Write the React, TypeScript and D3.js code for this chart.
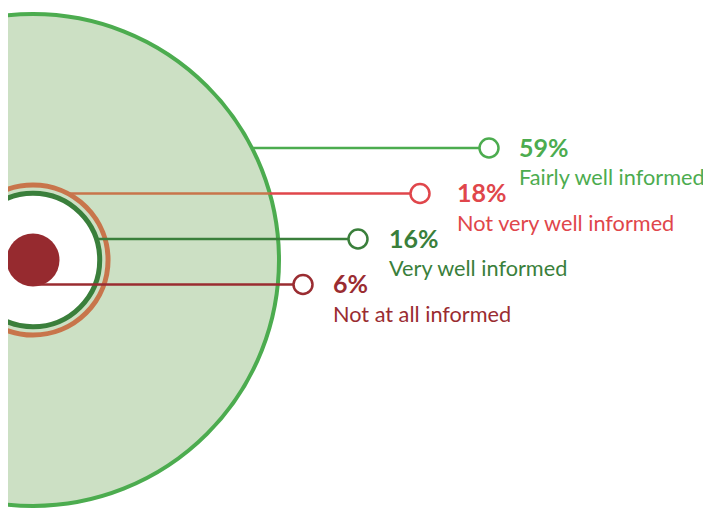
import React from "react";
import * as d3 from "d3";

const categories = ["Fairly well informed", "Not very well informed", "Very well informed", "Not at all informed"];
const values = [59, 18, 16, 6];
const ringColors = ["#4cac4f", "#c8754b", "#3a7f3b", "#962a2f"];
const lineColors = ["#4cac4f", "#e0464b", "#3a7f3b", "#9a2c31"];
const textColors = ["#4cac4f", "#e0464b", "#3a7f3b", "#9a2c31"];
const markerOffsets = [456, 387, 325, 270];
const textGaps = [30, 37, 31, 30];

const W = 711;
const H = 509;
const cx = 33;
const cy = 260;

export default function App() {
  const r = d3.scaleLinear().domain([0, 59]).range([0, 246]);
  const y = d3.scalePoint<number>().domain([0, 1, 2, 3]).range([148, 284.5]);
  const fmt = (v: number) => `${v}%`;

  const edgeX = (i: number, yy: number) => {
    const rr = r(values[i]);
    const dy = yy - cy;
    return dy * dy < rr * rr ? cx + Math.sqrt(rr * rr - dy * dy) : cx;
  };
  const bigR = r(values[0]);

  return (
    <svg width={W - 8} height={H - 8} style={{ display: "block", overflow: "hidden" }}>
      <g transform="translate(-8,-8)">
        <circle cx={cx} cy={cy} r={bigR} fill="#cce0c4" stroke={ringColors[0]} strokeWidth={4} />
        <circle cx={cx} cy={cy} r={r(values[1])} fill="none" stroke={ringColors[1]} strokeWidth={5} />
        <circle cx={cx} cy={cy} r={r(values[2])} fill="#ffffff" stroke={ringColors[2]} strokeWidth={5} />
        <circle cx={cx} cy={cy} r={r(values[3]) + 1.5} fill={ringColors[3]} />
        {values.map((v, i) => {
          const yy = y(i)!;
          const x0 = i === 3 ? cx + 4 : edgeX(i, yy);
          const mx = cx + markerOffsets[i];
          const bx = edgeX(0, yy);
          const tx = mx + textGaps[i];
          return (
            <g key={categories[i]}>
              {i === 1 ? (
                <>
                  <line x1={x0} x2={bx} y1={yy} y2={yy} stroke={ringColors[1]} strokeWidth={2.5} />
                  <line x1={bx} x2={mx} y1={yy} y2={yy} stroke={lineColors[1]} strokeWidth={2.5} />
                </>
              ) : (
                <line x1={x0} x2={mx} y1={yy} y2={yy} stroke={lineColors[i]} strokeWidth={2.5} />
              )}
              <circle cx={mx} cy={yy} r={9.5} fill="#ffffff" stroke={lineColors[i]} strokeWidth={2.5} />
              <text x={tx} y={yy + 8.5} fill={textColors[i]} fontFamily="Lato" fontWeight={700} fontSize={25}>
                {fmt(v)}
              </text>
              <text x={tx} y={yy + 37} fill={textColors[i]} fontFamily="Lato" fontWeight={400} fontSize={21.7}>
                {categories[i]}
              </text>
            </g>
          );
        })}
      </g>
    </svg>
  );
}
